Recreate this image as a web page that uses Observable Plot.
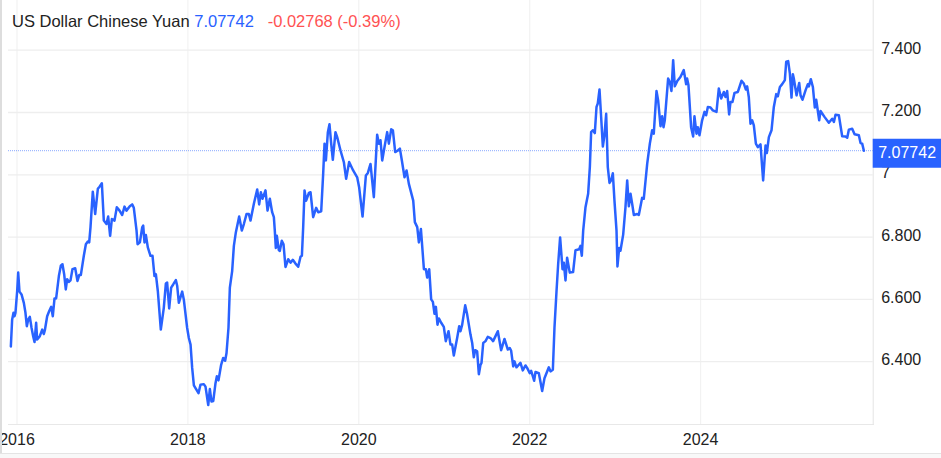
<!DOCTYPE html>
<html><head><meta charset="utf-8">
<script src="https://cdn.jsdelivr.net/npm/d3@7"></script>
<script src="https://cdn.jsdelivr.net/npm/@observablehq/plot@0.6"></script>
<style>
html,body{margin:0;padding:0;background:#fff;overflow:hidden}
#wrap{position:relative;width:941px;height:458px;font-family:"Liberation Sans",Arial,sans-serif}
#head{position:absolute;left:12px;top:12px;font-size:16.5px;line-height:18px;color:#222;white-space:pre;z-index:2}
#head .v{color:#2962ff}#head .c{color:#ff5252}
#edgeL{position:absolute;left:0;top:0;width:1.5px;height:458px;background:#ddd}
#edgeB{position:absolute;left:0;top:453px;width:941px;height:5px;background:#f8f8f8;border-top:1px solid #e4e4e4;box-sizing:border-box}
svg{display:block}
</style></head><body><div id="wrap"><div id="head"></div><div id="chart"></div><div id="edgeL"></div><div id="edgeB"></div></div>
<script>
const title = "US Dollar Chinese Yuan";
const lastPrice = 7.07742;
const change = "-0.02768 (-0.39%)";
const yTicks = [6.4, 6.6, 6.8, 7, 7.2, 7.4];
const xTicks = [2016, 2018, 2020, 2022, 2024];
const baseYear = 2016;
// [years since 2016, USD/CNY]
const rate2016 = [[-.072,6.449],[-.057,6.535],[-.041,6.557],[-.029,6.546],[-.018,6.557],[.002,6.627],[.014,6.686],[.029,6.625],[.053,6.616],[.08,6.589],[.099,6.557],[.115,6.514],[.131,6.535],[.15,6.544],[.17,6.509],[.189,6.482],[.205,6.463],[.224,6.525],[.236,6.471],[.267,6.482],[.295,6.503],[.314,6.489],[.326,6.501],[.353,6.546],[.376,6.562],[.4,6.576],[.419,6.546],[.439,6.603],[.458,6.603],[.49,6.675],[.513,6.708],[.532,6.713],[.552,6.681],[.571,6.632],[.587,6.665],[.607,6.656],[.626,6.661],[.649,6.697],[.681,6.7],[.708,6.659],[.728,6.678],[.747,6.678],[.782,6.74],[.806,6.777],[.829,6.786],[.845,6.783],[.86,6.831],[.887,6.946],[.915,6.874],[.946,6.955],[.966,6.962],[.993,6.973]];
const rate2017 = [[1.016,6.853],[1.047,6.842],[1.067,6.866],[1.09,6.804],[1.11,6.858],[1.141,6.853],[1.168,6.896],[1.2,6.885],[1.231,6.871],[1.258,6.898],[1.281,6.885],[1.32,6.899],[1.348,6.905],[1.367,6.894],[1.399,6.821],[1.411,6.777],[1.438,6.783],[1.465,6.831],[1.477,6.837],[1.492,6.783],[1.508,6.807],[1.531,6.767],[1.562,6.74],[1.586,6.74],[1.609,6.675],[1.625,6.681],[1.648,6.627],[1.683,6.503],[1.718,6.573],[1.742,6.651],[1.757,6.654],[1.781,6.571],[1.804,6.638],[1.828,6.648],[1.859,6.662],[1.875,6.643],[1.894,6.589],[1.933,6.625],[1.952,6.6],[1.991,6.509]];
const rate2018 = [[2.011,6.476],[2.031,6.455],[2.05,6.38],[2.07,6.324],[2.089,6.315],[2.124,6.299],[2.147,6.326],[2.186,6.328],[2.206,6.32],[2.238,6.261],[2.257,6.312],[2.276,6.272],[2.297,6.274],[2.323,6.331],[2.339,6.353],[2.358,6.34],[2.389,6.39],[2.413,6.412],[2.436,6.403],[2.452,6.428],[2.475,6.509],[2.491,6.638],[2.518,6.691],[2.538,6.772],[2.561,6.815],[2.6,6.866],[2.631,6.821],[2.655,6.842],[2.686,6.874],[2.713,6.874],[2.733,6.853],[2.772,6.907],[2.811,6.953],[2.834,6.905],[2.854,6.944],[2.873,6.923],[2.908,6.95],[2.932,6.885],[2.959,6.923],[2.986,6.88]];
const rate2019 = [[3.006,6.864],[3.017,6.821],[3.029,6.765],[3.041,6.804],[3.064,6.758],[3.076,6.756],[3.099,6.788],[3.119,6.777],[3.142,6.704],[3.174,6.729],[3.201,6.718],[3.228,6.727],[3.259,6.715],[3.291,6.705],[3.318,6.737],[3.334,6.74],[3.349,6.831],[3.365,6.95],[3.384,6.917],[3.416,6.942],[3.435,6.944],[3.466,6.864],[3.501,6.894],[3.525,6.88],[3.56,6.883],[3.583,7.003],[3.599,7.1],[3.615,7.046],[3.638,7.137],[3.657,7.162],[3.677,7.1],[3.696,7.048],[3.727,7.137],[3.747,7.121],[3.786,7.078],[3.825,7.041],[3.852,6.987],[3.887,7.041],[3.934,7.014],[3.981,6.992]];
const rate2020 = [[4.004,6.96],[4.044,6.866],[4.083,6.998],[4.106,7.006],[4.137,7.035],[4.176,6.928],[4.215,7.129],[4.235,7.1],[4.254,7.111],[4.274,7.046],[4.301,7.089],[4.332,7.137],[4.352,7.1],[4.379,7.146],[4.399,7.143],[4.426,7.073],[4.457,7.078],[4.481,7.084],[4.504,7.046],[4.535,6.992],[4.559,7.014],[4.586,6.971],[4.637,6.917],[4.656,6.848],[4.684,6.832],[4.703,6.783],[4.727,6.826],[4.762,6.697],[4.785,6.697],[4.8,6.67],[4.824,6.697],[4.847,6.6],[4.867,6.592],[4.886,6.554],[4.902,6.576],[4.921,6.519],[4.937,6.539],[4.964,6.525],[4.995,6.512]];
const rate2021 = [[5.018,6.466],[5.05,6.498],[5.073,6.455],[5.093,6.455],[5.112,6.42],[5.151,6.476],[5.175,6.514],[5.19,6.498],[5.21,6.519],[5.245,6.581],[5.268,6.552],[5.307,6.487],[5.327,6.46],[5.346,6.414],[5.362,6.437],[5.385,6.433],[5.405,6.36],[5.424,6.39],[5.436,6.396],[5.456,6.46],[5.483,6.466],[5.51,6.48],[5.541,6.476],[5.572,6.466],[5.6,6.482],[5.627,6.498],[5.666,6.437],[5.705,6.473],[5.744,6.439],[5.767,6.444],[5.783,6.435],[5.807,6.385],[5.822,6.401],[5.845,6.382],[5.892,6.396],[5.919,6.372],[5.951,6.388],[5.97,6.38]];
const rate2022 = [[6.001,6.363],[6.017,6.371],[6.052,6.339],[6.068,6.367],[6.107,6.363],[6.146,6.306],[6.173,6.347],[6.224,6.382],[6.243,6.369],[6.271,6.374],[6.29,6.509],[6.314,6.627],[6.333,6.713],[6.356,6.799],[6.384,6.697],[6.399,6.718],[6.419,6.661],[6.438,6.734],[6.469,6.686],[6.508,6.688],[6.536,6.758],[6.579,6.761],[6.594,6.772],[6.61,6.74],[6.626,6.821],[6.653,6.896],[6.684,6.939],[6.704,7.025],[6.719,7.137],[6.739,7.143],[6.762,7.134],[6.782,7.218],[6.797,7.229],[6.817,7.274],[6.836,7.186],[6.856,7.091],[6.875,7.127],[6.895,7.196],[6.914,7.025],[6.934,6.974],[6.953,6.982],[6.973,7.005],[6.992,6.917]];
const rate2023 = [[7.016,6.821],[7.027,6.706],[7.047,6.765],[7.062,6.756],[7.094,6.808],[7.121,6.896],[7.141,6.982],[7.16,6.899],[7.18,6.939],[7.199,6.907],[7.219,6.871],[7.258,6.874],[7.277,6.871],[7.316,6.926],[7.335,6.923],[7.375,7.035],[7.406,7.1],[7.433,7.143],[7.452,7.132],[7.484,7.269],[7.503,7.239],[7.531,7.156],[7.55,7.188],[7.566,7.153],[7.581,7.175],[7.62,7.309],[7.64,7.298],[7.659,7.269],[7.679,7.368],[7.698,7.284],[7.725,7.3],[7.764,7.314],[7.803,7.336],[7.831,7.291],[7.842,7.309],[7.858,7.288],[7.889,7.153],[7.913,7.123],[7.928,7.188],[7.952,7.132],[7.967,7.153],[7.987,7.127]];
const rate2024 = [[8.018,7.175],[8.046,7.202],[8.065,7.191],[8.085,7.218],[8.116,7.216],[8.143,7.207],[8.186,7.202],[8.213,7.277],[8.241,7.245],[8.272,7.266],[8.291,7.25],[8.311,7.269],[8.334,7.194],[8.35,7.234],[8.373,7.234],[8.397,7.263],[8.436,7.266],[8.479,7.302],[8.506,7.293],[8.529,7.274],[8.545,7.284],[8.564,7.25],[8.584,7.164],[8.604,7.175],[8.623,7.159],[8.647,7.1],[8.67,7.089],[8.701,7.098],[8.732,6.982],[8.76,7.094],[8.775,7.07],[8.799,7.121],[8.83,7.143],[8.857,7.218],[8.885,7.259],[8.904,7.252],[8.928,7.282],[8.955,7.291],[8.986,7.304]];
const rate2025 = [[9.002,7.363],[9.025,7.365],[9.045,7.325],[9.064,7.248],[9.08,7.323],[9.091,7.309],[9.123,7.255],[9.154,7.295],[9.17,7.255],[9.193,7.241],[9.228,7.271],[9.255,7.291],[9.267,7.284],[9.29,7.307],[9.314,7.282],[9.337,7.216],[9.353,7.241],[9.388,7.175],[9.404,7.205],[9.45,7.186],[9.501,7.167],[9.54,7.18],[9.56,7.17],[9.579,7.193],[9.618,7.191],[9.657,7.124],[9.696,7.123],[9.716,7.119],[9.735,7.145],[9.774,7.148],[9.802,7.13],[9.852,7.127],[9.872,7.102],[9.891,7.1],[9.911,7.07742]];

const series = [rate2016,rate2017,rate2018,rate2019,rate2020,rate2021,rate2022,rate2023,rate2024,rate2025]
  .flat().map(([t,v]) => ({year: baseYear + t, rate: v}));

const blue = "#2962ff", grid = "#eeeeee", gridV = "#f2f2f2", ink = "#222";
const xDomain = [2015.9005, 2026.02];
const yDomain = [6.1984, 7.5596];
const lastYear = xDomain[1];

document.getElementById("head").innerHTML =
  `${title} <span class="v">${lastPrice.toFixed(5)}</span>   <span class="c">${change}</span>`;

const chart = Plot.plot({
  width: 941, height: 458,
  marginTop: 0, marginBottom: 34, marginLeft: 8, marginRight: 68.3,
  style: {background: "#fff", overflow: "visible", fontFamily: '"Liberation Sans",Arial,sans-serif'},
  x: {type: "linear", domain: xDomain},
  y: {type: "linear", domain: yDomain},
  marks: [
    Plot.ruleX(xTicks, {stroke: gridV, strokeWidth: 1.2}),
    Plot.ruleY(yTicks, {stroke: grid, strokeWidth: 1.3}),
    Plot.frame({anchor: "bottom", stroke: "#e8e8e8"}),
    Plot.frame({anchor: "right", stroke: "#e4e4e4"}),
    Plot.ruleY([lastPrice], {stroke: blue, strokeOpacity: .55, strokeDasharray: "1 1", strokeWidth: 1}),
    Plot.line(series, {x: "year", y: "rate", stroke: blue, strokeWidth: 2.5, strokeLinejoin: "round"}),
    Plot.axisX({ticks: xTicks, tickFormat: d => String(d), tickSize: 0, tickPadding: 9, fontSize: 16, color: ink, label: null}),
    Plot.axisY({anchor: "right", ticks: yTicks, tickFormat: d => d === 7 ? "7" : d.toFixed(3), tickSize: 0, tickPadding: 8, fontSize: 16, color: ink, dy: -1.5, label: null}),
    Plot.ruleY([lastPrice], {x1: lastYear, x2: lastYear + .8, stroke: blue, strokeWidth: 29, dy: 2.5, clip: false}),
    Plot.text([lastPrice], {x: lastYear, y: d => d, text: d => d.toFixed(5), textAnchor: "start", dx: 5, dy: 2.5, fill: "#fff", fontSize: 16, clip: false})
  ]
});
document.getElementById("chart").append(chart);
</script></body></html>
